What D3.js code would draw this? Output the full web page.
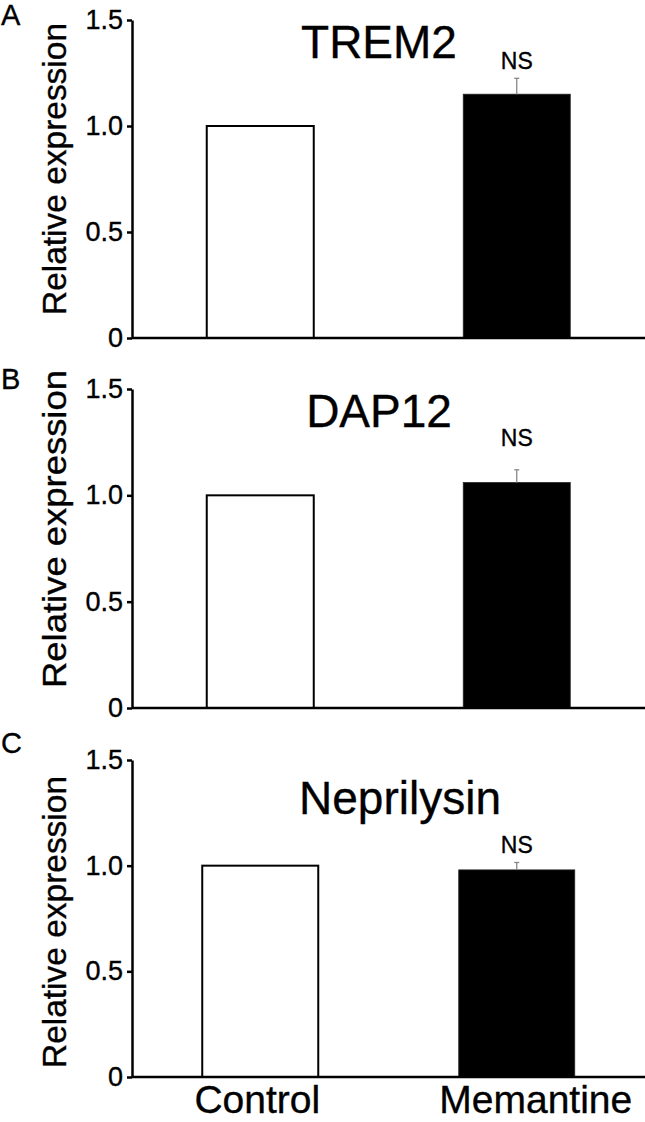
<!DOCTYPE html>
<html>
<head>
<meta charset="utf-8">
<script src="https://cdn.jsdelivr.net/npm/d3@7"></script>
<style>
  body { margin: 0; background: #fff; }
  svg { display: block; font-family: 'Liberation Sans', Arial, sans-serif; }
  svg text { stroke: #000; stroke-width: 0.35; }
  .axis path, .axis line { stroke: #000; stroke-width: 2.5; }
  .axis text { font-size: 27px; fill: #000; font-family: 'Liberation Sans', Arial, sans-serif; }
</style>
</head>
<body>
<svg id="chart" width="645" height="1122"></svg>
<script>
// data
const groups = ['Control', 'Memantine'];
const genes = ['TREM2', 'DAP12', 'Neprilysin'];
const panelLetters = ['A', 'B', 'C'];
const controlValues = [1.0, 1.0, 1.0];
const memantineValues = [1.15, 1.06, 0.98];
const memantineErrors = [0.075, 0.06, 0.035];
const sigLabels = ['NS', 'NS', 'NS'];
const yTicks = [0, 0.5, 1.0, 1.5];
const tickLabels = ['0', '0.5', '1.0', '1.5'];

// layout per panel
const panelTop = [20, 389, 760];
const panelBottom = [338, 708, 1077];
const titleX = [379, 379, 400];
const titleY = [58, 427, 814];
const letterY = [25, 389, 753];
const nsY = [69, 446, 853];
const labelCenter = [169, 529, 922];
const labelLen = [292, 318, 292];
const barWidths = [107, 107, 116];
const axisX = 132;
const rightEdge = 645;

const svg = d3.select('#chart');

const x = d3.scalePoint()
  .domain(groups)
  .range([axisX, rightEdge])
  .padding(0.5);

genes.forEach((gene, i) => {
  const y = d3.scaleLinear()
    .domain([0, 1.5])
    .range([panelBottom[i], panelTop[i]]);

  const g = svg.append('g');
  const values = [controlValues[i], memantineValues[i]];
  const bw = barWidths[i];

  // bars
  g.selectAll('rect.bar')
    .data(groups)
    .enter()
    .append('rect')
    .attr('class', 'bar')
    .attr('x', d => x(d) - bw / 2)
    .attr('y', (d, j) => y(values[j]))
    .attr('width', bw)
    .attr('height', (d, j) => y(0) - y(values[j]))
    .attr('fill', (d, j) => (j === 0 ? '#fff' : '#000'))
    .attr('stroke', (d, j) => (j === 0 ? '#000' : '#222'))
    .attr('stroke-width', (d, j) => (j === 0 ? 2 : 0.8));

  // error bar on memantine
  const mx = x(groups[1]);
  const top = y(memantineValues[i] + memantineErrors[i]);
  g.append('line')
    .attr('x1', mx).attr('x2', mx)
    .attr('y1', y(memantineValues[i])).attr('y2', top)
    .attr('stroke', '#888').attr('stroke-width', 1.3);
  g.append('line')
    .attr('x1', mx - 2.5).attr('x2', mx + 2.5)
    .attr('y1', top).attr('y2', top)
    .attr('stroke', '#888').attr('stroke-width', 1.3);

  g.append('text')
    .attr('x', mx)
    .attr('y', nsY[i])
    .attr('text-anchor', 'middle')
    .attr('font-size', '23px')
    .text(sigLabels[i]);

  // baseline
  g.append('line')
    .attr('x1', axisX).attr('x2', rightEdge)
    .attr('y1', y(0)).attr('y2', y(0))
    .attr('stroke', '#000').attr('stroke-width', 2.5);

  // y axis
  const yAxis = d3.axisLeft(y)
    .tickValues(yTicks)
    .tickFormat((d, j) => tickLabels[j])
    .tickSize(5)
    .tickSizeOuter(0)
    .tickPadding(4);

  g.append('g')
    .attr('class', 'axis')
    .attr('transform', `translate(${axisX},0)`)
    .call(yAxis);

  // title
  g.append('text')
    .attr('x', titleX[i])
    .attr('y', titleY[i])
    .attr('text-anchor', 'middle')
    .attr('font-size', '46px')
    .text(gene);

  // panel letter
  g.append('text')
    .attr('x', 1)
    .attr('y', letterY[i])
    .attr('font-size', '29px')
    .text(panelLetters[i]);

  // y label
  g.append('text')
    .attr('transform', `translate(66,${labelCenter[i]}) rotate(-90)`)
    .attr('text-anchor', 'middle')
    .attr('font-size', '33px')
    .attr('textLength', labelLen[i])
    .attr('lengthAdjust', 'spacingAndGlyphs')
    .text('Relative expression');
});

// category labels under the last panel
const labelShift = [-3, 19];
svg.append('g')
  .selectAll('text')
  .data(groups)
  .enter()
  .append('text')
  .attr('x', (d, j) => x(d) + labelShift[j])
  .attr('y', 1113)
  .attr('text-anchor', 'middle')
  .attr('font-size', '39px')
  .text(d => d);
</script>
</body>
</html>
